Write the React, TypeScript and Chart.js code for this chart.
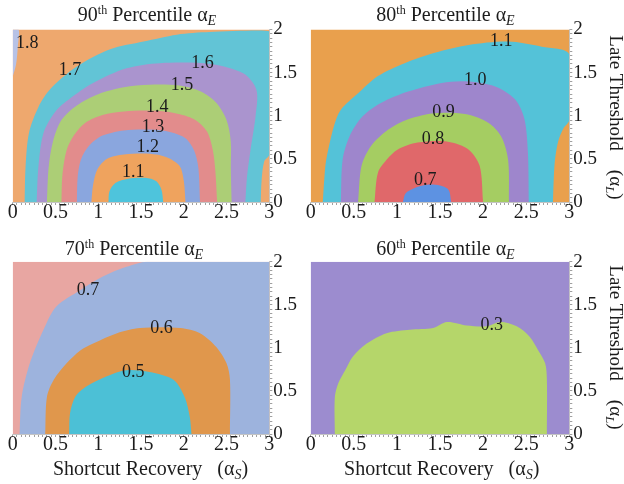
import React, { useEffect, useRef } from 'react';
import { Chart, registerables } from 'chart.js';

Chart.register(...registerables);

const SERIF = '"Liberation Serif", "Times New Roman", Times, serif';

// ---- axes ----
const xMajor = [0, 0.5, 1, 1.5, 2, 2.5, 3];
const xTickLabels = ['0', '0.5', '1', '1.5', '2', '2.5', '3'];
const yMajor = [0, 0.5, 1, 1.5, 2];
const yTickLabels = ['0', '0.5', '1', '1.5', '2'];

// ---- Panel 1: 90th percentile (contour boundaries, outer -> inner) ----
const p90_18 = [[0, 2], [0.07, 2], [0.06, 1.8], [0.04, 1.6], [0, 1.45]];
const p90_17 = [[0.14, 0], [0.15, 0.4], [0.19, 0.8], [0.3, 1.1], [0.44, 1.31], [0.75, 1.57], [1.14, 1.77], [1.53, 1.86], [1.92, 1.94], [2.3, 1.97], [3, 1.98], [3, 0.55], [2.94, 0.47], [2.91, 0.25], [2.9, 0]];
const p90_16 = [[0.28, 0], [0.3, 0.4], [0.36, 0.8], [0.5, 1.05], [0.67, 1.2], [0.94, 1.38], [1.33, 1.55], [1.72, 1.61], [2.31, 1.6], [2.7, 1.49], [2.85, 1.3], [2.84, 1.0], [2.78, 0.6], [2.74, 0.3], [2.72, 0]];
const p90_15 = [[0.4, 0], [0.42, 0.4], [0.47, 0.7], [0.57, 0.95], [0.75, 1.12], [1.0, 1.25], [1.3, 1.33], [1.6, 1.36], [1.95, 1.35], [2.2, 1.28], [2.38, 1.15], [2.5, 0.95], [2.55, 0.7], [2.55, 0.4], [2.56, 0]];
const p90_14 = [[0.57, 0], [0.58, 0.3], [0.63, 0.6], [0.72, 0.78], [0.85, 0.92], [1.05, 1.01], [1.3, 1.05], [1.6, 1.06], [1.9, 1.03], [2.12, 0.96], [2.27, 0.82], [2.34, 0.6], [2.37, 0.35], [2.39, 0]];
const p90_13 = [[0.75, 0], [0.76, 0.3], [0.8, 0.5], [0.9, 0.66], [1.05, 0.77], [1.3, 0.83], [1.6, 0.84], [1.85, 0.81], [2.02, 0.74], [2.12, 0.6], [2.17, 0.4], [2.19, 0]];
const p90_12 = [[0.92, 0], [0.94, 0.2], [0.99, 0.38], [1.1, 0.5], [1.3, 0.55], [1.6, 0.56], [1.8, 0.52], [1.95, 0.42], [2.0, 0.25], [2.02, 0]];
const p90_11 = [[1.12, 0], [1.13, 0.12], [1.2, 0.22], [1.35, 0.27], [1.55, 0.28], [1.68, 0.24], [1.74, 0.14], [1.76, 0]];
const p90Text = ['1.8', '1.7', '1.6', '1.5', '1.4', '1.3', '1.2', '1.1'];
const p90LabelX = [0.17, 0.67, 2.22, 1.98, 1.69, 1.64, 1.58, 1.41];
const p90LabelY = [1.84, 1.53, 1.61, 1.35, 1.1, 0.87, 0.64, 0.35];

// ---- Panel 2: 80th percentile ----
const p80_11 = [[0.14, 0], [0.16, 0.3], [0.18, 0.49], [0.27, 0.88], [0.35, 1.07], [0.55, 1.26], [0.78, 1.46], [1.09, 1.61], [1.44, 1.73], [1.83, 1.82], [2.29, 1.86], [2.68, 1.8], [3, 1.71], [3, 0.95], [2.93, 0.85], [2.87, 0.7], [2.83, 0.45], [2.81, 0]];
const p80_10 = [[0.35, 0], [0.37, 0.49], [0.45, 0.76], [0.6, 0.99], [0.82, 1.15], [1.13, 1.28], [1.52, 1.38], [1.79, 1.4], [2.14, 1.34], [2.37, 1.19], [2.48, 0.96], [2.52, 0.57], [2.53, 0]];
const p80_09 = [[0.55, 0], [0.59, 0.42], [0.7, 0.65], [0.9, 0.84], [1.13, 0.96], [1.44, 1.03], [1.79, 1.02], [2.06, 0.92], [2.21, 0.76], [2.29, 0.49], [2.3, 0]];
const p80_08 = [[0.74, 0], [0.78, 0.34], [0.88, 0.49], [1.01, 0.61], [1.24, 0.69], [1.59, 0.7], [1.83, 0.61], [1.96, 0.42], [2.0, 0]];
const p80_07 = [[1.07, 0], [1.1, 0.1], [1.2, 0.16], [1.35, 0.2], [1.5, 0.19], [1.6, 0.14], [1.63, 0]];
const p80Text = ['1.1', '1.0', '0.9', '0.8', '0.7'];
const p80LabelX = [2.21, 1.91, 1.54, 1.42, 1.33];
const p80LabelY = [1.86, 1.41, 1.04, 0.73, 0.25];

// ---- Panel 3: 70th percentile ----
const p70_07 = [[0.08, 0], [0.105, 0.43], [0.2, 0.82], [0.36, 1.21], [0.51, 1.48], [0.79, 1.67], [1.06, 1.83], [1.33, 1.94], [1.57, 2.0], [3, 2], [3, 0]];
const p70_06 = [[0.38, 0], [0.4, 0.43], [0.48, 0.63], [0.63, 0.82], [0.79, 0.97], [0.94, 1.05], [1.22, 1.17], [1.49, 1.23], [1.96, 1.23], [2.19, 1.17], [2.38, 1.01], [2.5, 0.82], [2.54, 0.63], [2.54, 0]];
const p70_05 = [[0.66, 0], [0.67, 0.24], [0.73, 0.43], [0.86, 0.55], [1.1, 0.67], [1.33, 0.74], [1.6, 0.72], [1.88, 0.63], [2.01, 0.43], [2.07, 0.2], [2.09, 0]];
const p70Text = ['0.7', '0.6', '0.5'];
const p70LabelX = [0.88, 1.74, 1.41];
const p70LabelY = [1.67, 1.23, 0.72];

// ---- Panel 4: 60th percentile ----
const p60_03 = [[0.28, 0], [0.28, 0.43], [0.32, 0.59], [0.4, 0.74], [0.49, 0.9], [0.65, 1.05], [0.88, 1.17], [1.15, 1.21], [1.42, 1.23], [1.58, 1.3], [1.81, 1.26], [2.04, 1.25], [2.2, 1.3], [2.39, 1.25], [2.54, 1.13], [2.64, 0.97], [2.72, 0.82], [2.74, 0.63], [2.74, 0]];
const p60Text = ['0.3'];
const p60LabelX = [2.1];
const p60LabelY = [1.26];

const fullArea = [[0, 0], [0, 2], [3, 2], [3, 0]];

type Band = { pts: number[][]; color: string };
type Panel = {
  left: number; top: number; width: number; height: number;
  area: { left: number; right: number; top: number; bottom: number };
  bg: string;
  bands: Band[];
  text: string[]; lx: number[]; ly: number[];
  pct: string;
  titleCx: number; titleBase: number;
  xTitle?: { cx: number; base: number };
  yTitle?: { x: number; cy: number };
};

type Seg = [string, string, number];

function drawRich(ctx: CanvasRenderingContext2D, segs: Seg[], x: number, y: number, rot: number) {
  ctx.save();
  ctx.translate(x, y);
  if (rot) ctx.rotate(rot);
  let total = 0;
  for (const [t, f] of segs) { ctx.font = f; total += ctx.measureText(t).width; }
  let cx = -total / 2;
  ctx.textAlign = 'left';
  ctx.textBaseline = 'alphabetic';
  for (const [t, f, dy] of segs) {
    ctx.font = f;
    ctx.fillText(t, cx, dy);
    cx += ctx.measureText(t).width;
  }
  ctx.restore();
}

const titleSegs = (pct: string): Seg[] => [
  [pct, `20px ${SERIF}`, 0],
  ['th', `12px ${SERIF}`, -7],
  [' Percentile ', `20px ${SERIF}`, 0],
  ['α', `20px ${SERIF}`, 0],
  ['E', `italic 14px ${SERIF}`, 4],
];
const xTitleSegs: Seg[] = [
  ['Shortcut Recovery', `20px ${SERIF}`, 0],
  ['   (α', `20px ${SERIF}`, 0],
  ['S', `italic 14px ${SERIF}`, 4],
  [')', `20px ${SERIF}`, 0],
];
const yTitleSegs: Seg[] = [
  ['Late Threshold', `19px ${SERIF}`, 0],
  ['    (α', `19px ${SERIF}`, 0],
  ['L', `italic 13px ${SERIF}`, 4],
  [')', `19px ${SERIF}`, 0],
];

const majorLabel = (major: number[], labels: string[]) => (v: any) => {
  const n = Number(v);
  const i = major.findIndex((m) => Math.abs(m - n) < 1e-6);
  return i >= 0 ? labels[i] : '';
};

function PanelChart({ p }: { p: Panel }) {
  const ref = useRef<HTMLCanvasElement>(null);
  useEffect(() => {
    if (!ref.current) return;
    const bandsInnerFirst = [...p.bands].reverse();
    const datasets: any[] = bandsInnerFirst.map((b) => ({
      data: b.pts.map(([x, y]) => ({ x, y })),
      fill: 'shape',
      backgroundColor: b.color,
      borderWidth: 0,
      pointRadius: 0,
      tension: 0.3,
    }));
    datasets.push({
      data: fullArea.map(([x, y]) => ({ x, y })),
      fill: 'shape',
      backgroundColor: p.bg,
      borderWidth: 0,
      pointRadius: 0,
      tension: 0,
    });
    const overlay = {
      id: 'overlay',
      afterDraw(chart: any) {
        const ctx: CanvasRenderingContext2D = chart.ctx;
        const xs = chart.scales.x;
        const ys = chart.scales.y;
        ctx.save();
        ctx.fillStyle = '#1c1c1c';
        ctx.font = `18px ${SERIF}`;
        ctx.textAlign = 'center';
        ctx.textBaseline = 'middle';
        p.text.forEach((t, i) => {
          ctx.fillText(t, xs.getPixelForValue(p.lx[i]), ys.getPixelForValue(p.ly[i]));
        });
        drawRich(ctx, titleSegs(p.pct), p.titleCx, p.titleBase, 0);
        if (p.xTitle) drawRich(ctx, xTitleSegs, p.xTitle.cx, p.xTitle.base, 0);
        if (p.yTitle) drawRich(ctx, yTitleSegs, p.yTitle.x, p.yTitle.cy, Math.PI / 2);
        ctx.restore();
      },
    };
    const chart = new Chart(ref.current, {
      type: 'line',
      data: { datasets },
      options: {
        responsive: false,
        animation: false,
        devicePixelRatio: 1,
        layout: { padding: { left: p.area.left, top: p.area.top, right: 0, bottom: 0 } },
        plugins: { legend: { display: false }, tooltip: { enabled: false }, title: { display: false } },
        events: [],
        scales: {
          x: {
            type: 'linear',
            position: 'bottom',
            min: 0,
            max: 3,
            grid: { drawOnChartArea: false, drawTicks: true, tickLength: 3, tickColor: '#a0a0a0', tickWidth: 1 },
            border: { display: true, color: '#c4c4c4' },
            ticks: {
              stepSize: 0.05,
              autoSkip: false,
              maxTicksLimit: 200,
              maxRotation: 0,
              minRotation: 0,
              padding: -2,
              color: '#1c1c1c',
              font: { family: SERIF, size: 20, lineHeight: 1 },
              callback: majorLabel(xMajor, xTickLabels),
            },
            afterFit: (s: any) => { s.height = p.height - p.area.bottom; },
          },
          y: {
            type: 'linear',
            position: 'right',
            min: 0,
            max: 2,
            grid: { drawOnChartArea: false, drawTicks: true, tickLength: 3, tickColor: '#a0a0a0', tickWidth: 1 },
            border: { display: true, color: '#c4c4c4' },
            ticks: {
              stepSize: 0.05,
              autoSkip: false,
              maxTicksLimit: 200,
              padding: 1,
              color: '#1c1c1c',
              font: { family: SERIF, size: 19, lineHeight: 1 },
              callback: majorLabel(yMajor, yTickLabels),
            },
            afterFit: (s: any) => { s.width = p.width - p.area.right; },
          },
        },
      } as any,
      plugins: [overlay],
    });
    return () => chart.destroy();
  }, [p]);
  return (
    <canvas
      ref={ref}
      width={p.width}
      height={p.height}
      style={{ position: 'absolute', left: p.left, top: p.top, width: p.width, height: p.height }}
    />
  );
}

const panels: Panel[] = [
  {
    left: 0, top: 0, width: 312, height: 230,
    area: { left: 12.7, right: 269.3, top: 29.5, bottom: 202 },
    bg: '#EEA86E',
    bands: [
      { pts: p90_18, color: '#B7C2E6' },
      { pts: p90_17, color: '#62C4D6' },
      { pts: p90_16, color: '#AA94CE' },
      { pts: p90_15, color: '#ACCE76' },
      { pts: p90_14, color: '#E28C8C' },
      { pts: p90_13, color: '#8AA6DE' },
      { pts: p90_12, color: '#EFA35E' },
      { pts: p90_11, color: '#4EC4DC' },
    ],
    text: p90Text, lx: p90LabelX, ly: p90LabelY,
    pct: '90', titleCx: 147, titleBase: 20.7,
  },
  {
    left: 300, top: 0, width: 324, height: 230,
    area: { left: 10.7, right: 269.3, top: 29.5, bottom: 202 },
    bg: '#E9A04D',
    bands: [
      { pts: p80_11, color: '#54C2D8' },
      { pts: p80_10, color: '#9E86CC' },
      { pts: p80_09, color: '#A5CD62' },
      { pts: p80_08, color: '#E0686A' },
      { pts: p80_07, color: '#5D92E2' },
    ],
    text: p80Text, lx: p80LabelX, ly: p80LabelY,
    pct: '80', titleCx: 145.5, titleBase: 20.7,
    yTitle: { x: 310, cy: 117.5 },
  },
  {
    left: 0, top: 230, width: 312, height: 254,
    area: { left: 12.7, right: 269.3, top: 31.7, bottom: 204 },
    bg: '#E8A6A2',
    bands: [
      { pts: p70_07, color: '#9DB3DD' },
      { pts: p70_06, color: '#E0974C' },
      { pts: p70_05, color: '#4CC0D6' },
    ],
    text: p70Text, lx: p70LabelX, ly: p70LabelY,
    pct: '70', titleCx: 134, titleBase: 25,
    xTitle: { cx: 150.5, base: 245 },
  },
  {
    left: 300, top: 230, width: 324, height: 254,
    area: { left: 10.7, right: 269.3, top: 31.7, bottom: 204 },
    bg: '#9C8CCF',
    bands: [
      { pts: p60_03, color: '#B5D66A' },
    ],
    text: p60Text, lx: p60LabelX, ly: p60LabelY,
    pct: '60', titleCx: 145.5, titleBase: 25,
    xTitle: { cx: 141.7, base: 245 },
    yTitle: { x: 310, cy: 117.5 },
  },
];

export default function App() {
  return (
    <div style={{ position: 'absolute', left: 0, top: 0, width: 624, height: 484, background: '#ffffff', overflow: 'hidden' }}>
      {panels.map((p, i) => (
        <PanelChart key={i} p={p} />
      ))}
    </div>
  );
}
